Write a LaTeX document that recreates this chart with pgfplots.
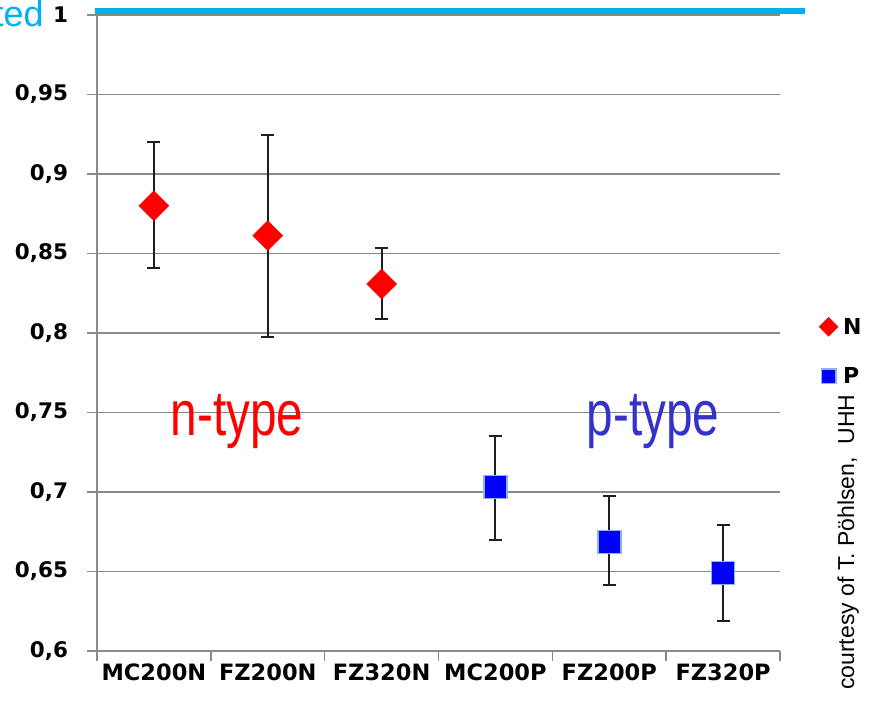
\documentclass[border=0pt]{standalone}
\usepackage{pgfplots}
\pgfplotsset{compat=1.18}
\usepackage{fontspec}
\setmainfont{Liberation Sans}
\newfontfamily\dvs{DejaVu Sans}
\definecolor{cyanline}{HTML}{00B0F0}
\definecolor{gridgray}{HTML}{898989}
\definecolor{ptype}{HTML}{3333CC}
\definecolor{sqedge}{HTML}{8DB4E2}
\pgfplotsset{
  legN/.style={legend image code/.code={\draw[##1, mark size=6.7pt] plot coordinates {(0pt,0pt)};}},
  legP/.style={legend image code/.code={\draw[##1, mark size=7.2pt] plot coordinates {(0pt,0pt)};}},
}
\begin{document}
\begin{tikzpicture}[x=1pt,y=1pt]
\path[use as bounding box] (-97,-51) rectangle (778,651);
\begin{axis}[
  at={(0,0)}, anchor=south west,
  scale only axis, width=683pt, height=636pt,
  xmin=-0.5, xmax=5.5, ymin=0.6, ymax=1,
  axis lines*=left,
  axis line style={gridgray, line width=1.5pt},
  xtick={-0.5,0.5,1.5,2.5,3.5,4.5,5.5},
  x tick label as interval,
  xticklabels={MC200N,FZ200N,FZ320N,MC200P,FZ200P,FZ320P},
  ytick={0.6,0.65,0.7,0.75,0.8,0.85,0.9,0.95,1},
  yticklabels={{0,6},{0,65},{0,7},{0,75},{0,8},{0,85},{0,9},{0,95},{1}},
  tick align=outside,
  major tick length=9.5pt,
  tick style={gridgray, line width=1.5pt},
  ymajorgrids, grid style={gridgray, line width=1.5pt},
  xticklabel style={font=\dvs\bfseries\fontsize{22.5}{22.5}\selectfont, text=black},
  yticklabel style={font=\dvs\bfseries\fontsize{21.5}{21.5}\selectfont, text=black, xshift=-16pt},
  clip=false,
  legend style={at={(1.057,0.527)}, anchor=north west, draw=none, fill=none,
    font=\dvs\bfseries\fontsize{22}{22}\selectfont, row sep=28pt, inner sep=0pt,
    nodes={inner xsep=5pt}},
  legend cell align=left,
]
\addplot[cyanline, line width=6pt, forget plot] coordinates {(-0.52,1.0022) (5.72,1.0022)};
\addplot[only marks, mark=square*, mark size=10.6pt,
  mark options={rotate=45, fill=red, draw=red},
  legN,
  error bars/.cd, y dir=both, y explicit, error mark=|,
  error bar style={line width=2pt, black!88},
  error mark options={line width=2pt, black!88, mark size=6.5pt}]
coordinates {
(0,0.8800) += (0,0.0401) -= (0,0.0391)
(1,0.8612) += (0,0.0635) -= (0,0.0635)
(2,0.8308) += (0,0.0227) -= (0,0.0220)
};
\addlegendentry{N}
\addplot[only marks, mark=square*, mark size=11.5pt,
  mark options={fill=blue, draw=sqedge, line width=1.5pt},
  legP,
  error bars/.cd, y dir=both, y explicit, error mark=|,
  error bar style={line width=2pt, black!88},
  error mark options={line width=2pt, black!88, mark size=6.5pt}]
coordinates {
(3,0.7031) += (0,0.0323) -= (0,0.0333)
(4,0.6686) += (0,0.0289) -= (0,0.0271)
(5,0.6492) += (0,0.0300) -= (0,0.0301)
};
\addlegendentry{P}
\end{axis}
\node[anchor=base east, inner sep=0pt, text=cyanline, font=\fontsize{36}{36}\selectfont] at (-53,624.3) {non-irradiated};
\node[anchor=base west, inner sep=0pt, xscale=0.75, text=red, font=\fontsize{63.6}{64}\selectfont] at (73.7,216) {n-type};
\node[anchor=base west, inner sep=0pt, xscale=0.75, text=ptype, font=\fontsize{63.6}{64}\selectfont] at (489.7,216) {p-type};
\node[rotate=90, anchor=base west, inner sep=0pt, font=\fontsize{23}{23}\selectfont] at (757,-39) {courtesy of T. Pöhlsen,\ \ UHH};
\end{tikzpicture}
\end{document}
